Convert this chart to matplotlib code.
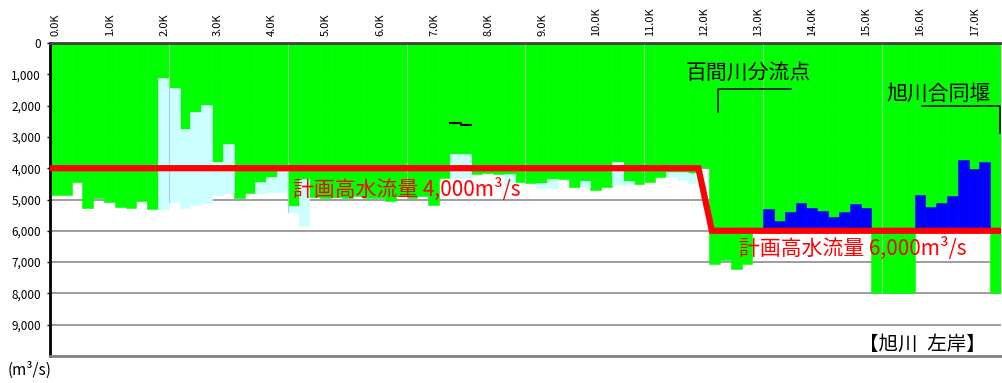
import numpy as np
import matplotlib
matplotlib.use("Agg")
import matplotlib.pyplot as plt
from matplotlib.transforms import ScaledTranslation

plt.rcParams['font.family'] = ['Noto Sans CJK JP', 'DejaVu Sans']

# 200 m sections, left edge in km (0.0K .. 17.4K)
section_step = 0.2
n_sections = 88

# lower edge of the green capacity band per section (m3/s)
green_bottom = [
    4860, 4860, 4435, 5256, 4968, 5075, 5235, 5256, 5043, 5288,   # 0.0 - 1.8
    1130, 1439, 2750, 2217, 1993, 3795, 3241, 4946, 4808, 4435,   # 2.0 - 3.8
    4275, 4100, 5213, 4360, 4930, 4950, 4920, 4960, 4900, 4940,   # 4.0 - 5.8
    4950, 5060, 4900, 4950, 4900, 5160, 4300, 3550, 3550, 4200,   # 6.0 - 7.8
    4150, 4200, 4200, 4435, 4488, 4488, 4349, 4349, 4595, 4413,   # 8.0 - 9.8
    4701, 4595, 3816, 4413, 4509, 4456, 4296, 4115, 4115, 4150,   # 10.0 - 11.8
    3950, 7050, 6940, 7230, 7050, 6000, 6000, 6000, 6000, 6000,   # 12.0 - 13.8
    6000, 6000, 6000, 6000, 6000, 6000, 8000, 8000, 8000, 8000,   # 14.0 - 15.8
    6000, 6000, 6000, 6000, 6000, 6000, 6000, 8000,               # 16.0 - 17.4
]

# lower edge of the light-cyan band (NaN where there is none)
nan = np.nan
cyan_bottom = [
    nan, nan, nan, nan, nan, nan, nan, nan, nan, nan,
    5288, 5075, 5267, 5181, 5096, 4861, 4808, nan, nan, 4787,
    4755, 4755, 5395, 5842, nan, nan, nan, nan, nan, nan,
    nan, nan, nan, nan, nan, nan, nan, 4300, 4300, nan,
    nan, nan, 4550, nan, nan, 4627, 4627, nan, nan, 4595,
    nan, nan, 4541, 4541, nan, nan, nan, 4296, 4381, 4488,
    nan, nan, nan, nan, nan, nan, nan, nan, nan, nan,
    nan, nan, nan, nan, nan, nan, nan, nan, nan, nan,
    nan, nan, nan, nan, nan, nan, nan, nan,
]

# upper edge of the blue band (runs down to the planned flow)
blue_top = [nan] * 66 + [5309, 5692, 5395, 5107, 5267, 5363, 5555, 5395, 5149, 5267] \
    + [nan] * 4 + [4861, 5235, 5107, 4893, 3742, 4040, 3806] + [nan]

# planned high-water discharge
plan_x = [0.0, 12.0, 12.25, 17.6]
plan_q = [4000, 4000, 6000, 6000]
plan_low, plan_high = 4000, 6000

# small black level marks near 7.5K
mark_x = [7.4, 7.6, 7.8]
mark_q = [2540, 2630]

seam_x = [2.2, 4.4, 6.6, 8.8, 11.0, 13.2, 15.4]

x_ticks = list(range(0, 18))
x_labels = [f"{k:.1f}K" for k in x_ticks]
y_ticks = list(range(0, 10000, 1000))
y_labels = ["0"] + [f"{v:,}" for v in y_ticks[1:]]

GREEN = '#00FF00'
CYAN = '#CCFFFF'
BLUE = '#0000FF'
RED = '#FF0000'

fig = plt.figure(figsize=(10.03, 3.83), dpi=100)
ax = fig.add_axes([50 / 1003, 27 / 383, 951 / 1003, 313 / 383])

x = np.arange(n_sections) * section_step
g = np.array(green_bottom, float)
c = np.array(cyan_bottom, float)
b = np.array(blue_top, float)

ax.bar(x, g, width=section_step, align='edge', color=GREEN,
       edgecolor=GREEN, linewidth=0.4, zorder=2)
mc = ~np.isnan(c)
ax.bar(x[mc], c[mc] - g[mc], bottom=g[mc], width=section_step, align='edge',
       color=CYAN, edgecolor=CYAN, linewidth=0.4, zorder=2)

# faint seams between chart segments
for sx in seam_x:
    i = int(round(sx / section_step))
    ax.plot([sx, sx], [0, g[i]], color='#8fe68f', lw=0.8, zorder=2.5)
    if mc[i]:
        ax.plot([sx, sx], [g[i], c[i]], color='#a8c8ff', lw=0.8, zorder=2.5)

mb = ~np.isnan(b)
ax.bar(x[mb], plan_high - b[mb], bottom=b[mb], width=section_step, align='edge',
       color=BLUE, edgecolor=BLUE, linewidth=0.4, zorder=3)

ax.plot(plan_x, plan_q, color=RED, lw=4.5, solid_capstyle='round',
        solid_joinstyle='miter', zorder=4)

ax.step(mark_x, mark_q + [mark_q[-1]], where='post', color='black', lw=1.5, zorder=4)

ax.set_xlim(0, 17.6)
ax.set_ylim(10000, 0)

ax.set_yticks(y_ticks)
ax.set_yticklabels(y_labels)
ax.yaxis.grid(True, color='#8c8c8c', lw=1.2, zorder=0.5)
ax.set_axisbelow(True)
ax.tick_params(axis='y', direction='out', length=2.5, width=1, pad=4,
               labelsize=8.5, colors='black')

ax.xaxis.tick_top()
ax.set_xticks(x_ticks)
ax.set_xticklabels(x_labels, rotation=90)
ax.tick_params(axis='x', direction='in', length=3, width=1, pad=5,
               labelsize=8, colors='black')
shift = ScaledTranslation(6 / 100, 0, fig.dpi_scale_trans)
for lab in ax.get_xticklabels():
    lab.set_transform(lab.get_transform() + shift)

for side in ['right']:
    ax.spines[side].set_visible(False)
ax.spines['left'].set_color('black')
ax.spines['left'].set_linewidth(2)
ax.spines['top'].set_color('#404040')
ax.spines['top'].set_linewidth(2)
ax.spines['bottom'].set_color('#808080')
ax.spines['bottom'].set_linewidth(2)

# annotations
ax.text(4.5, 4670, f"計画高水流量 {plan_low:,}m³/s", color=RED, fontsize=15,
        ha='left', va='center', zorder=5)
ax.text(12.75, 6556, f"計画高水流量 {plan_high:,}m³/s", color=RED, fontsize=15,
        ha='left', va='center', zorder=5)

ax.text(12.93, 960, "百間川分流点", fontsize=15, ha='center', va='center', zorder=5)
ax.plot([12.36, 12.36, 13.72], [2197, 1481, 1481], color='black', lw=1.1, zorder=5)

ax.text(16.44, 1615, "旭川合同堰", fontsize=15, ha='center', va='center', zorder=5)
ax.plot([16.14, 17.58, 17.58], [2015, 2015, 2878], color='black', lw=1.1, zorder=5)

ax.text(16.14, 9635, "【旭川\u2002左岸】", fontsize=14, ha='center', va='center', zorder=5)

fig.text(8 / 1003, 1 - 370 / 383, "(m³/s)", fontsize=11, ha='left', va='center')

fig.savefig("out.png", dpi=100)
